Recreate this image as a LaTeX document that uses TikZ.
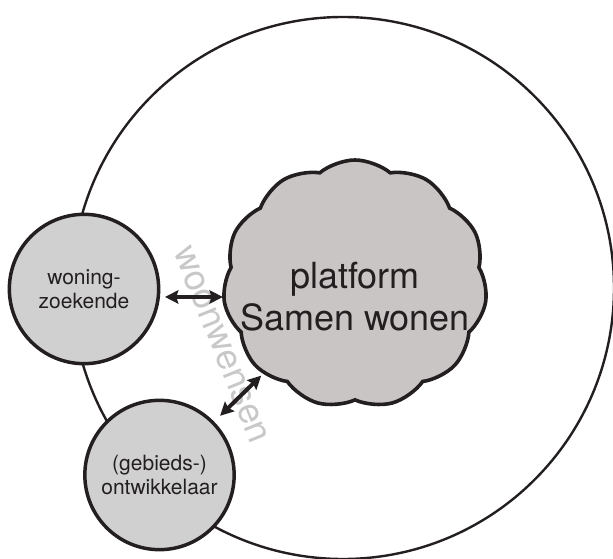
\documentclass[tikz,border=0pt]{standalone}
\usepackage{fontspec}
\setmainfont{TeX Gyre Heros}
\usetikzlibrary{shapes.symbols,arrows.meta,calc}

\definecolor{inkt}{RGB}{35,31,32}
\definecolor{wolkvlak}{RGB}{201,197,197}
\definecolor{bolvlak}{RGB}{208,208,208}
\definecolor{wenstekst}{RGB}{200,200,200}

\tikzset{every picture/.style={line width=0.75pt}}
\tikzset{
  partij/.style={circle,draw=inkt,fill=bolvlak,line width=2.6pt,minimum size=112pt,inner sep=0pt,
    align=center,text=inkt,font=\fontsize{15.75}{18}\selectfont},
  wolkvorm/.style={cloud,cloud puffs=11,cloud puff arc=80,cloud ignores aspect,draw=inkt,fill=wolkvlak,
    line width=2.7pt,minimum width=198pt,minimum height=186pt,inner sep=0pt},
  wisselpijl/.style={draw=inkt,line width=3pt,<->,>={Stealth[length=10pt,width=10pt,inset=1.5pt]}}
}

\begin{document}
\begin{tikzpicture}[x=0.75pt,y=0.75pt,yscale=-1,xscale=1]
\useasboundingbox (0,0) rectangle (613,559);

%Shape: Circle [big ring]
\draw [draw=inkt,line width=1.8pt] (343,288) circle (271);

%Shape: Cloud
\node [wolkvorm] (wolk) at (355,284) {};
% Text Node
\node [align=center,text=inkt,font=\fontsize{27}{31.5}\selectfont] (platform) at ([yshift=9.75pt]wolk.center) {platform\\Samen wonen};

%Shape: Circle
\node [partij] (woning) at (84,289) {woning-\\zoekende};
%Shape: Circle
\node [partij] (gebieds) at (159.5,475) {(gebieds-)\\ontwikkelaar};

% Text Node
\node [rotate=-68,text=wenstekst,font=\fontsize{27}{30}\selectfont] (wensen) at (221,345) {woonwensen};

%Straight Lines
\draw [wisselpijl] ([xshift=3.75pt]woning.-6) -- ([xshift=0pt]woning.-6 -| wolk.west);
\draw [wisselpijl] ($(gebieds)!0.31!(wolk)$) -- ($(gebieds)!0.52!(wolk)$);

\end{tikzpicture}
\end{document}
